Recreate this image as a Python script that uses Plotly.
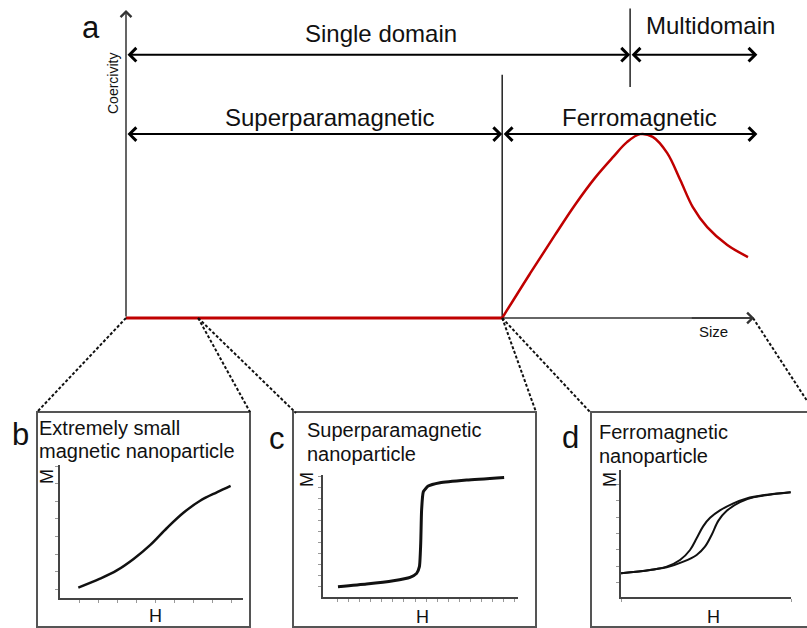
import plotly.graph_objects as go

# ---------------- data ----------------
# main panel: coercivity versus particle size (arbitrary units)
size_sp = [0, 6.0]
coer_sp = [0, 0]
size_fm = [6.0, 6.44, 6.84, 7.16, 7.48, 7.77, 7.99, 8.20, 8.40, 8.63, 8.84, 9.04, 9.27, 9.59, 9.92]
coer_fm = [0, 1.43, 2.69, 3.67, 4.55, 5.23, 5.71, 5.97, 5.88, 5.36, 4.48, 3.60, 2.95, 2.37, 1.98]

# regime boundaries on the size axis
sp_limit = 6.0      # superparamagnetic / ferromagnetic
sd_limit = 8.04     # single domain / multidomain
size_small = 1.15   # "extremely small" particle
size_max = 10.0

# inset b: extremely small magnetic nanoparticle
H_b = [0.96, 2.1, 2.98, 3.86, 4.74, 5.61, 6.49, 7.37, 8.25, 8.95]
M_b = [0.09, 0.60, 1.07, 1.72, 2.52, 3.48, 4.36, 5.04, 5.52, 5.88]

# inset c: superparamagnetic nanoparticle
H_c = [0, 2.6, 5.03, 6.55, 7.15, 7.4, 7.52, 7.6, 7.76, 8.2, 9.27, 11.7, 15.1]
M_c = [0.94, 1.18, 1.48, 1.79, 2.15, 2.76, 4.88, 7.9, 9.58, 10.09, 10.39, 10.64, 10.88]

# inset d: ferromagnetic nanoparticle (hysteresis loop branches)
H_d_up = [0, 1.71, 2.69, 3.47, 4.06, 4.45, 4.84, 5.24, 5.82, 6.61, 7.39, 8.57, 9.98]
M_d_up = [0.59, 0.79, 0.99, 1.39, 2.0, 2.71, 3.45, 3.95, 4.40, 4.83, 5.13, 5.35, 5.5]
H_d_lo = [0, 1.71, 2.69, 3.67, 4.45, 4.94, 5.33, 5.73, 6.22, 7.0, 7.78, 9.98]
M_d_lo = [0.59, 0.79, 0.95, 1.29, 1.70, 2.2, 2.91, 3.78, 4.38, 4.9, 5.19, 5.5]

# ---------------- geometry helpers ----------------
W, Hpx = 807, 628
FONT = "Liberation Sans, Arial, sans-serif"


def fx(p):
    return p / W


def fy(p):
    return 1 - p / Hpx


# main axes: origin pixel and pixels per unit
OX, OY, SX, SY = 126, 318, 62.7, 30.8
XR = [-0.3, 10.4]
YR = [-0.5, 10.2]


def main_to_paper(x, y):
    return fx(OX + x * SX), fy(OY - y * SY)


fig = go.Figure()

RED = "#c00000"
fig.add_trace(go.Scatter(x=size_sp, y=coer_sp, mode="lines",
                         line=dict(color=RED, width=3), xaxis="x", yaxis="y",
                         hoverinfo="skip"))
fig.add_trace(go.Scatter(x=size_fm, y=coer_fm, mode="lines",
                         line=dict(color=RED, width=2.5, shape="spline", smoothing=1.0),
                         xaxis="x", yaxis="y", hoverinfo="skip"))

CURVE = "#111111"
fig.add_trace(go.Scatter(x=H_b, y=M_b, mode="lines",
                         line=dict(color=CURVE, width=2.5, shape="spline", smoothing=1.0),
                         xaxis="x2", yaxis="y2", hoverinfo="skip"))
fig.add_trace(go.Scatter(x=H_c, y=M_c, mode="lines",
                         line=dict(color=CURVE, width=3, shape="spline", smoothing=0.5),
                         xaxis="x3", yaxis="y3", hoverinfo="skip"))
fig.add_trace(go.Scatter(x=H_d_up, y=M_d_up, mode="lines",
                         line=dict(color=CURVE, width=2, shape="spline", smoothing=1.0),
                         xaxis="x4", yaxis="y4", hoverinfo="skip"))
fig.add_trace(go.Scatter(x=H_d_lo, y=M_d_lo, mode="lines",
                         line=dict(color=CURVE, width=2, shape="spline", smoothing=1.0),
                         xaxis="x4", yaxis="y4", hoverinfo="skip"))

hidden = dict(showline=False, showgrid=False, zeroline=False, showticklabels=False,
              ticks="", fixedrange=True)


def inset_axis(px0, px1, rng, horizontal, tickvals):
    dom = [fx(px0), fx(px1)] if horizontal else [fy(px1), fy(px0)]
    return dict(domain=dom, range=rng, showline=True, linecolor="#444", linewidth=1.5,
                showgrid=False, zeroline=False, showticklabels=False,
                ticks="outside", ticklen=3, tickwidth=1, tickcolor="#999",
                tickmode="array", tickvals=tickvals, fixedrange=True)


fig.update_layout(
    width=W, height=Hpx, margin=dict(l=0, r=0, t=0, b=0),
    paper_bgcolor="white", plot_bgcolor="rgba(0,0,0,0)", showlegend=False,
    xaxis=dict(domain=[fx(OX + XR[0] * SX), fx(OX + XR[1] * SX)], range=XR, **hidden),
    yaxis=dict(domain=[fy(OY - YR[0] * SY), fy(OY - YR[1] * SY)], range=YR, **hidden),
    xaxis2=inset_axis(60, 243, [0, 9.6], True, list(range(1, 10))) | dict(anchor="y2"),
    yaxis2=inset_axis(465, 598, [-0.5, 7.06], False, list(range(0, 8))) | dict(anchor="x2"),
    xaxis3=inset_axis(323, 518, [-1.36, 16.36], True, list(range(0, 17))) | dict(anchor="y3"),
    yaxis3=inset_axis(475, 597, [0, 11.1], False, list(range(1, 12))) | dict(anchor="x3"),
    xaxis4=inset_axis(621, 791, [0, 10], True, [0, 10]) | dict(anchor="y4"),
    yaxis4=inset_axis(470, 597, [-0.85, 6.85], False, list(range(0, 7))) | dict(anchor="x4"),
)

shapes = []
# main axis line (drawn below the red curve)
shapes.append(dict(type="line", xref="x", yref="y", x0=0, y0=0, x1=size_max, y1=0,
                   line=dict(color="#333", width=1.5), layer="below"))
# regime dividers
shapes.append(dict(type="line", xref="x", yref="y", x0=sp_limit, y0=0, x1=sp_limit, y1=7.9,
                   line=dict(color="#222", width=1.5), layer="below"))
shapes.append(dict(type="line", xref="x", yref="y", x0=sd_limit, y0=7.5, x1=sd_limit, y1=10.05,
                   line=dict(color="#222", width=1.5), layer="below"))

# inset frames
BOX = dict(color="#555", width=2)
frames = [(37, 250), (293, 536), (591, 812)]
for x0, x1 in frames:
    shapes.append(dict(type="rect", xref="paper", yref="paper",
                       x0=fx(x0), x1=fx(x1), y0=fy(627), y1=fy(412), line=BOX))

# dashed connectors from size axis to the inset frames
DASH = dict(color="#111", width=2, dash="3px,2px")
links = [(0, (38, 411)), (size_small, (250, 412)), (size_small, (296, 413)),
         (sp_limit, (536, 412)), (sp_limit, (590, 412)), (size_max, (815, 413))]
for s, (bx, by) in links:
    px, py = main_to_paper(s, 0)
    shapes.append(dict(type="line", xref="paper", yref="paper", x0=px, y0=py,
                       x1=fx(bx), y1=fy(by), line=DASH))
fig.update_layout(shapes=shapes)

ann = []


def arrow(x0, y0, x1, y1, both=False, color="black", width=2, size=1.3):
    d = dict(xref="x", yref="y", axref="x", ayref="y", x=x1, y=y1, ax=x0, ay=y0,
             text="", showarrow=True, arrowhead=4, arrowsize=size, arrowwidth=width,
             arrowcolor=color, standoff=0, startstandoff=0)
    if both:
        d.update(arrowside="end+start", startarrowhead=4, startarrowsize=size)
    ann.append(d)


# axes with arrow tips
arrow(9.0, 0, size_max + 0.02, 0, color="#333", width=1.5, size=1.4)
arrow(0, 0, 0, 10.0, color="#333", width=1.5, size=1.4)
# regime spans
arrow(0, 8.55, sd_limit, 8.55, both=True)
arrow(sd_limit, 8.55, 10.07, 8.55, both=True)
arrow(0, 5.97, sp_limit, 5.97, both=True)
arrow(sp_limit, 5.97, 10.07, 5.97, both=True)


def text(t, x, y, size, xanchor="center", angle=0, color="#111"):
    ann.append(dict(xref="paper", yref="paper", x=fx(x), y=fy(y), text=t,
                    showarrow=False, xanchor=xanchor, yanchor="middle", textangle=angle,
                    font=dict(family=FONT, size=size, color=color)))


text("a", 91, 27, 31)
text("Single domain", 381, 33, 24)
text("Multidomain", 710, 26, 24)
text("Superparamagnetic", 329, 117, 24)
text("Ferromagnetic", 639, 117, 24)
text("Coercivity", 113, 84, 14, angle=-90)
text("Size", 713, 331, 15)

text("b", 20, 434, 31)
text("Extremely small", 37, 428, 20, xanchor="left")
text("magnetic nanoparticle", 37, 451, 20, xanchor="left")
text("M", 47, 477, 18, angle=-90)
text("H", 155, 616, 18)

text("c", 277, 438, 31)
text("Superparamagnetic", 305, 430, 20, xanchor="left")
text("nanoparticle", 305, 454, 20, xanchor="left")
text("M", 307, 480, 18, angle=-90)
text("H", 422, 617, 18)

text("d", 570, 437, 31)
text("Ferromagnetic", 597, 432, 20, xanchor="left")
text("nanoparticle", 597, 456, 20, xanchor="left")
text("M", 610, 480, 18, angle=-90)
text("H", 713, 617, 18)

fig.update_layout(annotations=ann)

fig.write_html("out.html")
